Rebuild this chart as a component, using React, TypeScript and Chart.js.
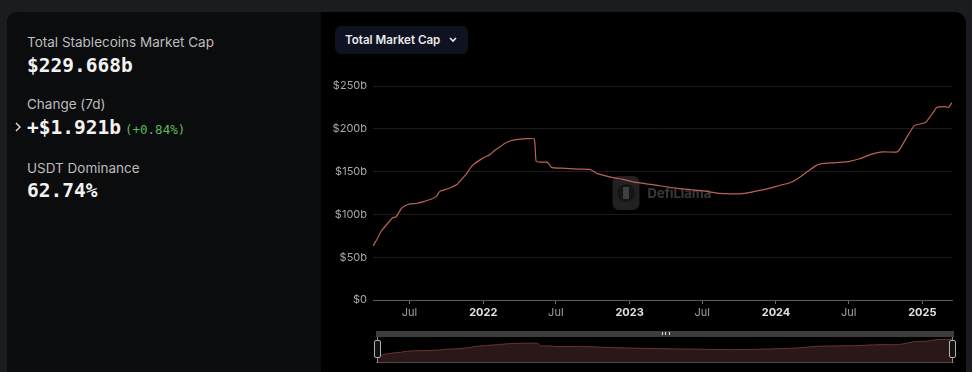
import React, { useEffect, useRef } from "react";
import { Chart, registerables } from "chart.js";

Chart.register(...registerables);

// ---- Data ----
const dates: string[] = [
  "2021-04-01", "2021-04-10", "2021-04-21", "2021-05-05", "2021-05-20", "2021-05-28",
  "2021-06-11", "2021-06-20", "2021-07-01", "2021-07-20", "2021-08-05", "2021-08-25",
  "2021-09-06", "2021-09-15", "2021-10-05", "2021-10-27", "2021-11-10", "2021-11-21",
  "2021-12-01", "2021-12-12", "2021-12-25", "2022-01-05", "2022-01-18", "2022-01-30",
  "2022-02-12", "2022-02-24", "2022-03-10", "2022-04-03", "2022-04-20", "2022-05-08",
  "2022-05-13", "2022-05-25", "2022-06-08", "2022-06-14", "2022-06-20", "2022-07-15",
  "2022-08-25", "2022-09-24", "2022-10-11", "2022-11-21", "2022-12-15", "2023-01-10",
  "2023-03-17", "2023-05-01", "2023-06-25", "2023-08-14", "2023-09-10", "2023-10-03",
  "2023-11-01", "2023-11-22", "2023-12-20", "2024-01-11", "2024-02-05", "2024-02-25",
  "2024-03-20", "2024-04-10", "2024-04-22", "2024-05-30", "2024-07-03", "2024-07-28",
  "2024-08-28", "2024-09-23", "2024-10-30", "2024-11-08", "2024-11-23", "2024-12-13",
  "2025-01-08", "2025-01-25", "2025-02-06", "2025-02-27", "2025-03-07", "2025-03-16",
];

const marketCap: number[] = [
  63, 70, 80, 88, 96, 97,
  107, 110, 112, 113, 115, 118,
  121, 127, 130, 135, 142, 148,
  155, 160, 164, 167, 170, 175,
  179, 183, 186, 188, 188.5, 188,
  162, 161, 161, 159, 155, 154,
  153, 152.5, 148, 143, 141, 138,
  133.5, 130.5, 128, 124.5, 124, 124,
  126, 128, 131, 134, 137, 142,
  150, 157, 159, 160.5, 162, 165,
  170.5, 173, 173, 178, 190, 204,
  207, 217, 225, 226, 225, 230.5,
];

const tickDates: string[] = [
  "2021-07-01", "2022-01-01", "2022-07-01", "2023-01-01",
  "2023-07-01", "2024-01-01", "2024-07-01", "2025-01-01",
];
const tickLabels: string[] = ["Jul", "2022", "Jul", "2023", "Jul", "2024", "Jul", "2025"];

const yTicks: number[] = [0, 50, 100, 150, 200, 250];
const startDate = "2021-04-01";
const endDate = "2025-03-16";

function toYear(d: string): number {
  const [y, m, day] = d.split("-").map(Number);
  const t = Date.UTC(y, m - 1, day);
  const s = Date.UTC(y, 0, 1);
  const e = Date.UTC(y + 1, 0, 1);
  return y + (t - s) / (e - s);
}

const points = dates.map((d, i) => ({ x: toYear(d), y: marketCap[i] }));

const watermark = {
  id: "watermark",
  beforeDatasetsDraw(chart: any) {
    const { ctx, chartArea } = chart;
    const cx = (chartArea.left + chartArea.right) / 2;
    const cy = (chartArea.top + chartArea.bottom) / 2;
    ctx.save();
    ctx.fillStyle = "rgba(255,255,255,0.13)";
    const lx = cx - 50, ly = cy - 17, w = 27, h = 34, r = 7;
    ctx.beginPath();
    ctx.moveTo(lx + r, ly);
    ctx.lineTo(lx + w - r, ly);
    ctx.quadraticCurveTo(lx + w, ly, lx + w, ly + r);
    ctx.lineTo(lx + w, ly + h - r);
    ctx.quadraticCurveTo(lx + w, ly + h, lx + w - r, ly + h);
    ctx.lineTo(lx + r, ly + h);
    ctx.quadraticCurveTo(lx, ly + h, lx, ly + h - r);
    ctx.lineTo(lx, ly + r);
    ctx.quadraticCurveTo(lx, ly, lx + r, ly);
    ctx.fill();
    ctx.fillStyle = "rgba(0,0,0,0.35)";
    ctx.beginPath();
    ctx.arc(lx + w / 2, ly + h / 2, 9, 0, Math.PI * 2);
    ctx.fill();
    ctx.fillStyle = "rgba(255,255,255,0.18)";
    ctx.fillRect(lx + w / 2 - 3, ly + h / 2 - 6, 6, 12);
    ctx.font = "bold 13px Inter";
    ctx.fillStyle = "rgba(255,255,255,0.22)";
    ctx.textBaseline = "middle";
    ctx.fillText("DefiLlama", cx - 15, cy + 1);
    ctx.restore();
  },
};

export default function App() {
  const mainRef = useRef<HTMLCanvasElement>(null);
  const sliderRef = useRef<HTMLCanvasElement>(null);

  useEffect(() => {
    const xmin = toYear(startDate);
    const xmax = toYear(endDate);
    const main = new Chart(mainRef.current!, {
      type: "line",
      data: {
        datasets: [
          {
            data: points,
            borderColor: "#bd6155",
            borderWidth: 1.2,
            pointRadius: 0,
            tension: 0.2,
          },
        ],
      },
      options: {
        responsive: false,
        animation: false,
        parsing: false as any,
        layout: { padding: { top: 16, right: 15, left: 0, bottom: 0 } },
        plugins: { legend: { display: false }, tooltip: { enabled: false } },
        scales: {
          x: {
            type: "linear",
            min: xmin,
            max: xmax,
            afterBuildTicks: (axis: any) => {
              axis.ticks = tickDates.map((d) => ({ value: toYear(d) }));
            },
            afterFit: (s: any) => {
              s.height = 20;
            },
            ticks: {
              autoSkip: false,
              maxRotation: 0,
              padding: 2,
              callback: (_v: any, i: number) => tickLabels[i],
              color: (c: any) => (/^\d{4}$/.test(tickLabels[c.index] || "") ? "#e2e2e2" : "#a0a0a0"),
              font: (c: any) => ({
                family: "Inter",
                size: 11,
                weight: /^\d{4}$/.test(tickLabels[c.index] || "") ? "bold" : "normal",
              }),
            },
            grid: {
              drawOnChartArea: false,
              drawTicks: true,
              tickLength: 4,
              color: "#6a6a6a",
            },
            border: { display: true, color: "#5a5a5a", width: 1 },
          },
          y: {
            min: 0,
            max: 250,
            afterBuildTicks: (axis: any) => {
              axis.ticks = yTicks.map((v) => ({ value: v }));
            },
            afterFit: (s: any) => {
              s.width = 52;
            },
            ticks: {
              padding: 6,
              color: "#a8a8a8",
              font: { family: "Inter", size: 11 },
              callback: (v: any) => (v === 0 ? "$0" : `$${v}b`),
            },
            grid: {
              drawTicks: false,
              color: (c: any) => (c.tick && c.tick.value === 0 ? "rgba(0,0,0,0)" : "#1b1b1b"),
            },
            border: { display: false },
          },
        },
      },
      plugins: [watermark],
    });

    const slider = new Chart(sliderRef.current!, {
      type: "line",
      data: {
        datasets: [
          {
            data: points,
            borderColor: "#6e3530",
            backgroundColor: "#2a1818",
            fill: "origin",
            borderWidth: 1,
            pointRadius: 0,
            tension: 0.2,
          },
        ],
      },
      options: {
        responsive: false,
        animation: false,
        parsing: false as any,
        layout: { padding: 0 },
        plugins: { legend: { display: false }, tooltip: { enabled: false } },
        scales: {
          x: { type: "linear", min: xmin, max: xmax, display: false },
          y: { min: 0, max: 250, display: false },
        },
      },
    });

    return () => {
      main.destroy();
      slider.destroy();
    };
  }, []);

  const label: React.CSSProperties = {
    position: "absolute",
    left: 27,
    fontFamily: "Inter, sans-serif",
    fontSize: 13.5,
    lineHeight: "17px",
    color: "#bdbdbd",
    whiteSpace: "nowrap",
  };
  const value: React.CSSProperties = {
    position: "absolute",
    left: 27,
    fontFamily: "'DejaVu Sans Mono', monospace",
    fontWeight: "bold",
    fontSize: 19.5,
    lineHeight: "24px",
    color: "#f2f2f2",
    whiteSpace: "nowrap",
  };

  return (
    <div
      style={{
        position: "fixed",
        left: 0,
        top: 0,
        width: 972,
        height: 372,
        background: "#1b1c20",
        overflow: "hidden",
      }}
    >
      <div
        style={{
          position: "absolute",
          left: 7,
          top: 12,
          width: 959,
          height: 400,
          borderRadius: 11,
          overflow: "hidden",
          background: "#000",
        }}
      >
        <div style={{ position: "absolute", left: 0, top: 0, width: 314, height: 400, background: "#0b0c0e" }} />
      </div>

      <div style={{ ...label, top: 33.5 }}>Total Stablecoins Market Cap</div>
      <div style={{ ...value, top: 54 }}>$229.668b</div>
      <div style={{ ...label, top: 95.5 }}>Change (7d)</div>
      <svg style={{ position: "absolute", left: 14, top: 121 }} width="8" height="12">
        <polyline points="2,2 6,6 2,10" fill="none" stroke="#e0e0e0" strokeWidth="1.4" />
      </svg>
      <div style={{ ...value, top: 116 }}>+$1.921b</div>
      <div
        style={{
          position: "absolute",
          left: 125,
          top: 122,
          fontFamily: "'DejaVu Sans Mono', monospace",
          fontSize: 12.5,
          lineHeight: "16px",
          color: "#5dbb5d",
          whiteSpace: "nowrap",
        }}
      >
        (+0.84%)
      </div>
      <div style={{ ...label, top: 159.5 }}>USDT Dominance</div>
      <div style={{ ...value, top: 179 }}>62.74%</div>

      <div
        style={{
          position: "absolute",
          left: 335,
          top: 26,
          width: 133,
          height: 28,
          background: "#0f1321",
          borderRadius: 6,
        }}
      >
        <div
          style={{
            position: "absolute",
            left: 10,
            top: 6,
            fontFamily: "Inter, sans-serif",
            fontWeight: 600,
            fontSize: 11.6,
            lineHeight: "16px",
            color: "#e8e8e8",
            whiteSpace: "nowrap",
          }}
        >
          Total Market Cap
        </div>
        <svg style={{ position: "absolute", left: 113, top: 10 }} width="10" height="8">
          <polyline points="2,2 5,5 8,2" fill="none" stroke="#e8e8e8" strokeWidth="1.6" />
        </svg>
      </div>

      <canvas
        ref={mainRef}
        width={646}
        height={250}
        style={{ position: "absolute", left: 321, top: 70, width: 646, height: 250 }}
      />

      {/* slider */}
      <div style={{ position: "absolute", left: 376, top: 331, width: 578, height: 6, background: "#3c3c3c" }}>
        <div
          style={{
            position: "absolute",
            left: 286,
            top: 1,
            width: 6,
            height: 3,
            borderLeft: "1px solid #ddd",
            borderRight: "1px solid #ddd",
          }}
        >
          <div style={{ position: "absolute", left: 2, top: 0, width: 1, height: 3, background: "#ddd" }} />
        </div>
      </div>
      <canvas
        ref={sliderRef}
        width={574}
        height={25}
        style={{ position: "absolute", left: 378, top: 337, width: 574, height: 25 }}
      />
      <div style={{ position: "absolute", left: 376, top: 362, width: 578, height: 1, background: "#4a4a4a" }} />
      <div style={{ position: "absolute", left: 377, top: 337, width: 1, height: 26, background: "#888" }} />
      <div style={{ position: "absolute", left: 952, top: 337, width: 1, height: 26, background: "#888" }} />
      <div
        style={{
          position: "absolute",
          left: 374,
          top: 340,
          width: 5,
          height: 16,
          border: "1px solid #b0b0b0",
          borderRadius: 2,
          background: "#111",
        }}
      />
      <div
        style={{
          position: "absolute",
          left: 949,
          top: 340,
          width: 5,
          height: 16,
          border: "1px solid #b0b0b0",
          borderRadius: 2,
          background: "#111",
        }}
      />
    </div>
  );
}
